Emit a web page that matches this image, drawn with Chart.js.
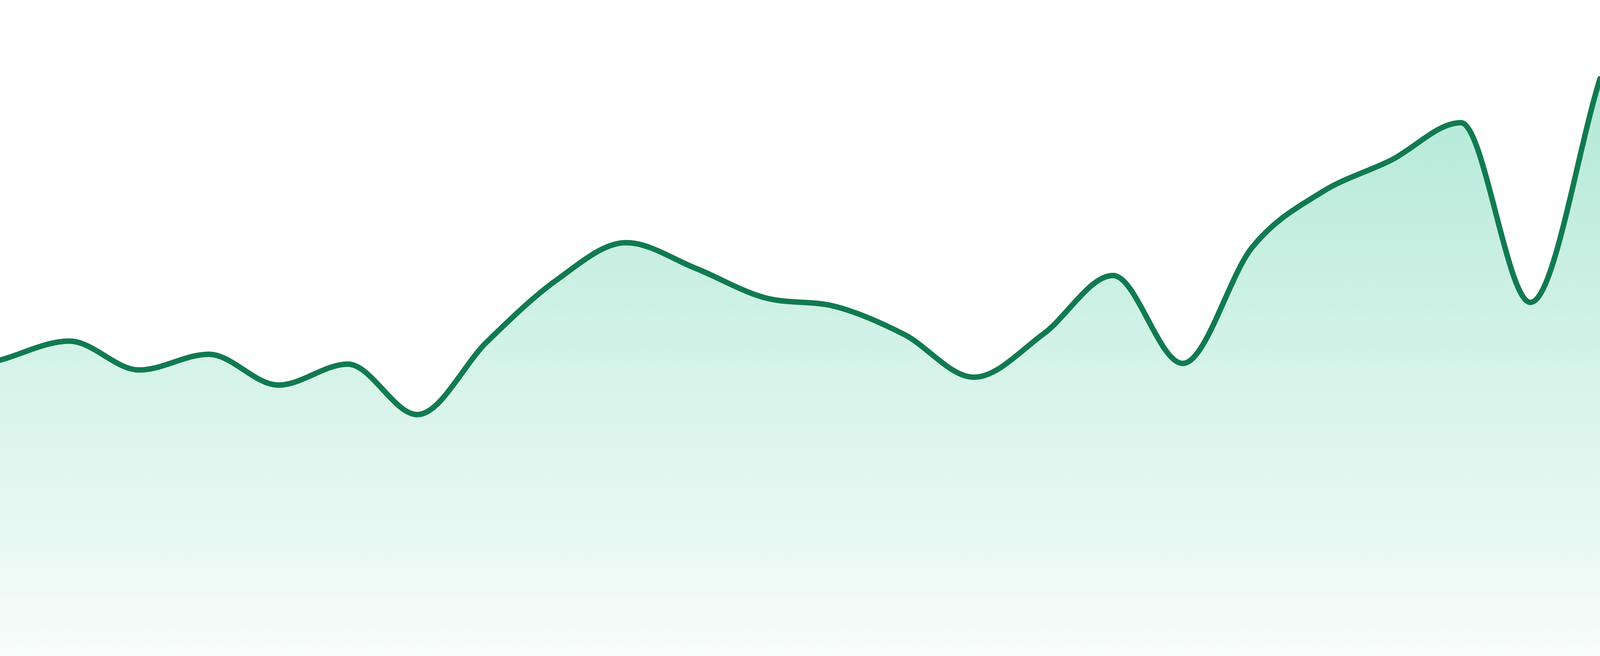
<!DOCTYPE html>
<html>
<head>
<meta charset="utf-8">
<script src="https://cdn.jsdelivr.net/npm/chart.js@4/dist/chart.umd.min.js"></script>
<style>
  html, body { margin: 0; padding: 0; background: #ffffff; overflow: hidden; }
  #wrap { width: 100vw; height: 100vh; position: relative; }
</style>
</head>
<body>
<div id="wrap"><canvas id="trend"></canvas></div>
<script>
// 24 periods, no axis shown in the picture
const labels = ['1', '2', '3', '4', '5', '6', '7', '8', '9', '10', '11', '12',
                '13', '14', '15', '16', '17', '18', '19', '20', '21', '22', '23', '24']

// values (0 = bottom edge, 100 = top edge)
const values = [45.1, 48.0, 43.6, 46.0, 41.3, 44.5, 36.8, 47.9, 57.3, 63.0, 59.1, 54.6,
                53.3, 49.0, 42.5, 49.1, 58.0, 44.6, 62.3, 70.7, 75.6, 81.3, 53.9, 88.0]

const yRange = [0, 100]

const lineColor = 'rgb(17,122,80)'

function areaFill(context){
    const chart = context.chart
    const area = chart.chartArea
    if(!area){
        return 'rgba(16,185,129,0.2)'
    }
    let grad = chart.ctx.createLinearGradient(0, area.top, 0, area.bottom)
    grad.addColorStop(0, 'rgba(16,185,129,0.36)')
    grad.addColorStop(1, 'rgba(16,185,129,0.03)')
    return grad
}

const ctx = document.getElementById('trend')
let trendChart = new Chart(ctx, {
    type: 'line',
    data: {
        labels: labels,
        datasets: [{
            data: values,
            borderColor: lineColor,
            borderWidth: 14,
            backgroundColor: areaFill,
            fill: 'origin',
            cubicInterpolationMode: 'monotone',
            pointRadius: 0,
            pointHoverRadius: 0,
            borderCapStyle: 'round',
            borderJoinStyle: 'round'
        }]
    },
    options: {
        responsive: true,
        maintainAspectRatio: false,
        animation: false,
        layout: { padding: 0 },
        plugins: {
            legend: { display: false },
            tooltip: { enabled: false }
        },
        scales: {
            x: { display: false, offset: false },
            y: { display: false, min: yRange[0], max: yRange[1] }
        }
    }
})
</script>
</body>
</html>
